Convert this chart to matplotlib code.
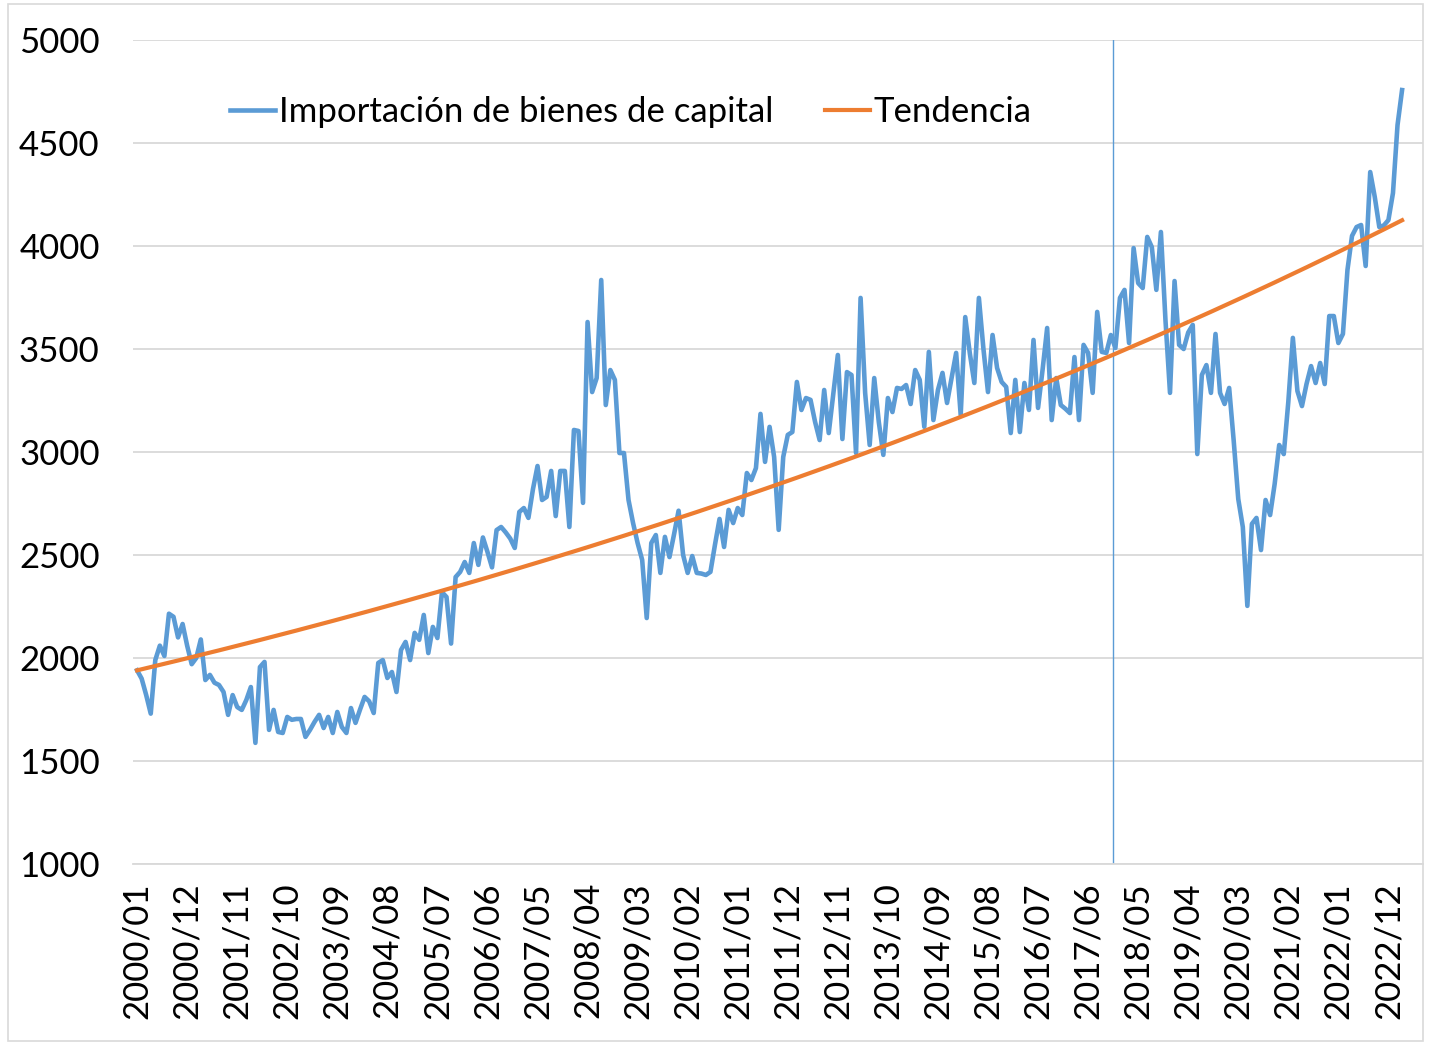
import numpy as np
import pandas as pd
import matplotlib
matplotlib.use("Agg")
import matplotlib.pyplot as plt

plt.rcParams['font.family'] = ['Lato', 'DejaVu Sans']

# ---- data -------------------------------------------------------------
months = list(pd.period_range('2000-01', '2023-03', freq='M').strftime('%Y/%m'))

imports = [
    1940, 1900, 1820, 1730, 1990, 2060, 2010, 2215, 2200, 2100,
    2165, 2060, 1970, 2000, 2090, 1893, 1918, 1880, 1869, 1835,
    1724, 1820, 1762, 1748, 1796, 1859, 1588, 1956, 1981, 1651,
    1748, 1641, 1636, 1714, 1700, 1704, 1704, 1617, 1651, 1690,
    1724, 1660, 1714, 1636, 1738, 1665, 1636, 1757, 1685, 1750,
    1811, 1790, 1733, 1976, 1990, 1903, 1932, 1835, 2039, 2078,
    1990, 2122, 2088, 2209, 2024, 2151, 2097, 2320, 2296, 2070,
    2393, 2418, 2466, 2413, 2558, 2452, 2585, 2515, 2440, 2621,
    2636, 2610, 2580, 2534, 2709, 2728, 2680, 2820, 2932, 2767,
    2782, 2908, 2689, 2908, 2908, 2636, 3107, 3102, 2753, 3631,
    3291, 3359, 3835, 3228, 3398, 3350, 2995, 2995, 2767, 2655,
    2558, 2476, 2194, 2558, 2597, 2413, 2588, 2490, 2600, 2715,
    2500, 2413, 2495, 2413, 2410, 2403, 2418, 2550, 2675, 2539,
    2719, 2655, 2728, 2694, 2898, 2864, 2922, 3185, 2952, 3122,
    2976, 2622, 2976, 3083, 3097, 3340, 3204, 3262, 3253, 3146,
    3058, 3301, 3092, 3280, 3471, 3063, 3388, 3374, 2995, 3748,
    3287, 3034, 3359, 3146, 2986, 3262, 3194, 3311, 3306, 3325,
    3233, 3398, 3350, 3122, 3486, 3155, 3301, 3384, 3238, 3360,
    3481, 3180, 3655, 3480, 3335, 3748, 3500, 3291, 3568, 3408,
    3340, 3316, 3092, 3350, 3097, 3335, 3204, 3544, 3214, 3400,
    3602, 3155, 3359, 3228, 3210, 3189, 3461, 3155, 3520, 3481,
    3287, 3680, 3486, 3481, 3568, 3505, 3748, 3787, 3529, 3990,
    3820, 3796, 4044, 3995, 3787, 4068, 3641, 3287, 3830, 3520,
    3500, 3580, 3617, 2990, 3374, 3422, 3287, 3573, 3287, 3233,
    3311, 3054, 2772, 2636, 2253, 2651, 2680, 2524, 2767, 2694,
    2845, 3034, 2990, 3243, 3554, 3296, 3223, 3330, 3417, 3335,
    3432, 3330, 3660, 3660, 3529, 3573, 3884, 4049, 4092, 4102,
    3903, 4359, 4238, 4092, 4100, 4126, 4257, 4587, 4757,
]

# exponential trendline: values read at its first and last month
trend_first = 1940
trend_last = 4125

series_labels = ['Importación de bienes de capital', 'Tendencia']
y_ticks = [1000, 1500, 2000, 2500, 3000, 3500, 4000, 4500, 5000]
label_step = 11
marker_month = '2017/11'   # vertical reference line drawn just after this month

# ---- derived ----------------------------------------------------------
x = np.arange(len(imports))
vals = np.array(imports, dtype=float)
growth = np.log(trend_last / trend_first) / (len(x) - 1)
trend = trend_first * np.exp(growth * x)

# ---- figure -----------------------------------------------------------
W, H = 1431, 1047
fig = plt.figure(figsize=(W / 100, H / 100), dpi=100)
fig.patch.set_facecolor('white')
border = plt.Rectangle((8 / W, 6 / H), (W - 16) / W, (H - 10) / H,
                       transform=fig.transFigure, fill=False,
                       edgecolor='#d9d9d9', lw=1.2)
fig.add_artist(border)

ax = fig.add_axes([133 / W, (H - 864) / H, (1423 - 133) / W, 824 / H])
blue = '#5B9BD5'
orange = '#ED7D31'

ax.plot(x, vals, color=blue, lw=3.3, solid_joinstyle='round',
        label=series_labels[0], zorder=3)
ax.plot(x, trend, color=orange, lw=3.0, label=series_labels[1], zorder=4)

vx = months.index(marker_month) + 0.5
ax.axvline(vx, color=blue, lw=1.0, zorder=2)

ax.set_ylim(1000, 5000)
ax.set_xlim(-0.9, 282.6)
ax.set_yticks(y_ticks)
ax.yaxis.grid(True, color='#d9d9d9', lw=1.3)
ax.set_axisbelow(True)
ax.set_xticks(x[::label_step])
ax.set_xticklabels([months[i] for i in x[::label_step]], rotation=90)
ax.tick_params(axis='both', length=0, labelsize=25, colors='black')
ax.tick_params(axis='y', pad=24)
ax.tick_params(axis='x', pad=13)
for s in ['top', 'right', 'left']:
    ax.spines[s].set_visible(False)
ax.spines['bottom'].set_color('#d9d9d9')
ax.spines['bottom'].set_linewidth(1.3)

ax.legend(loc='center', bbox_to_anchor=(0.386, 0.913), ncol=2, frameon=False,
          fontsize=25, handlelength=1.3, handletextpad=0.1, columnspacing=1.5)

fig.savefig('out.png', dpi=100)
